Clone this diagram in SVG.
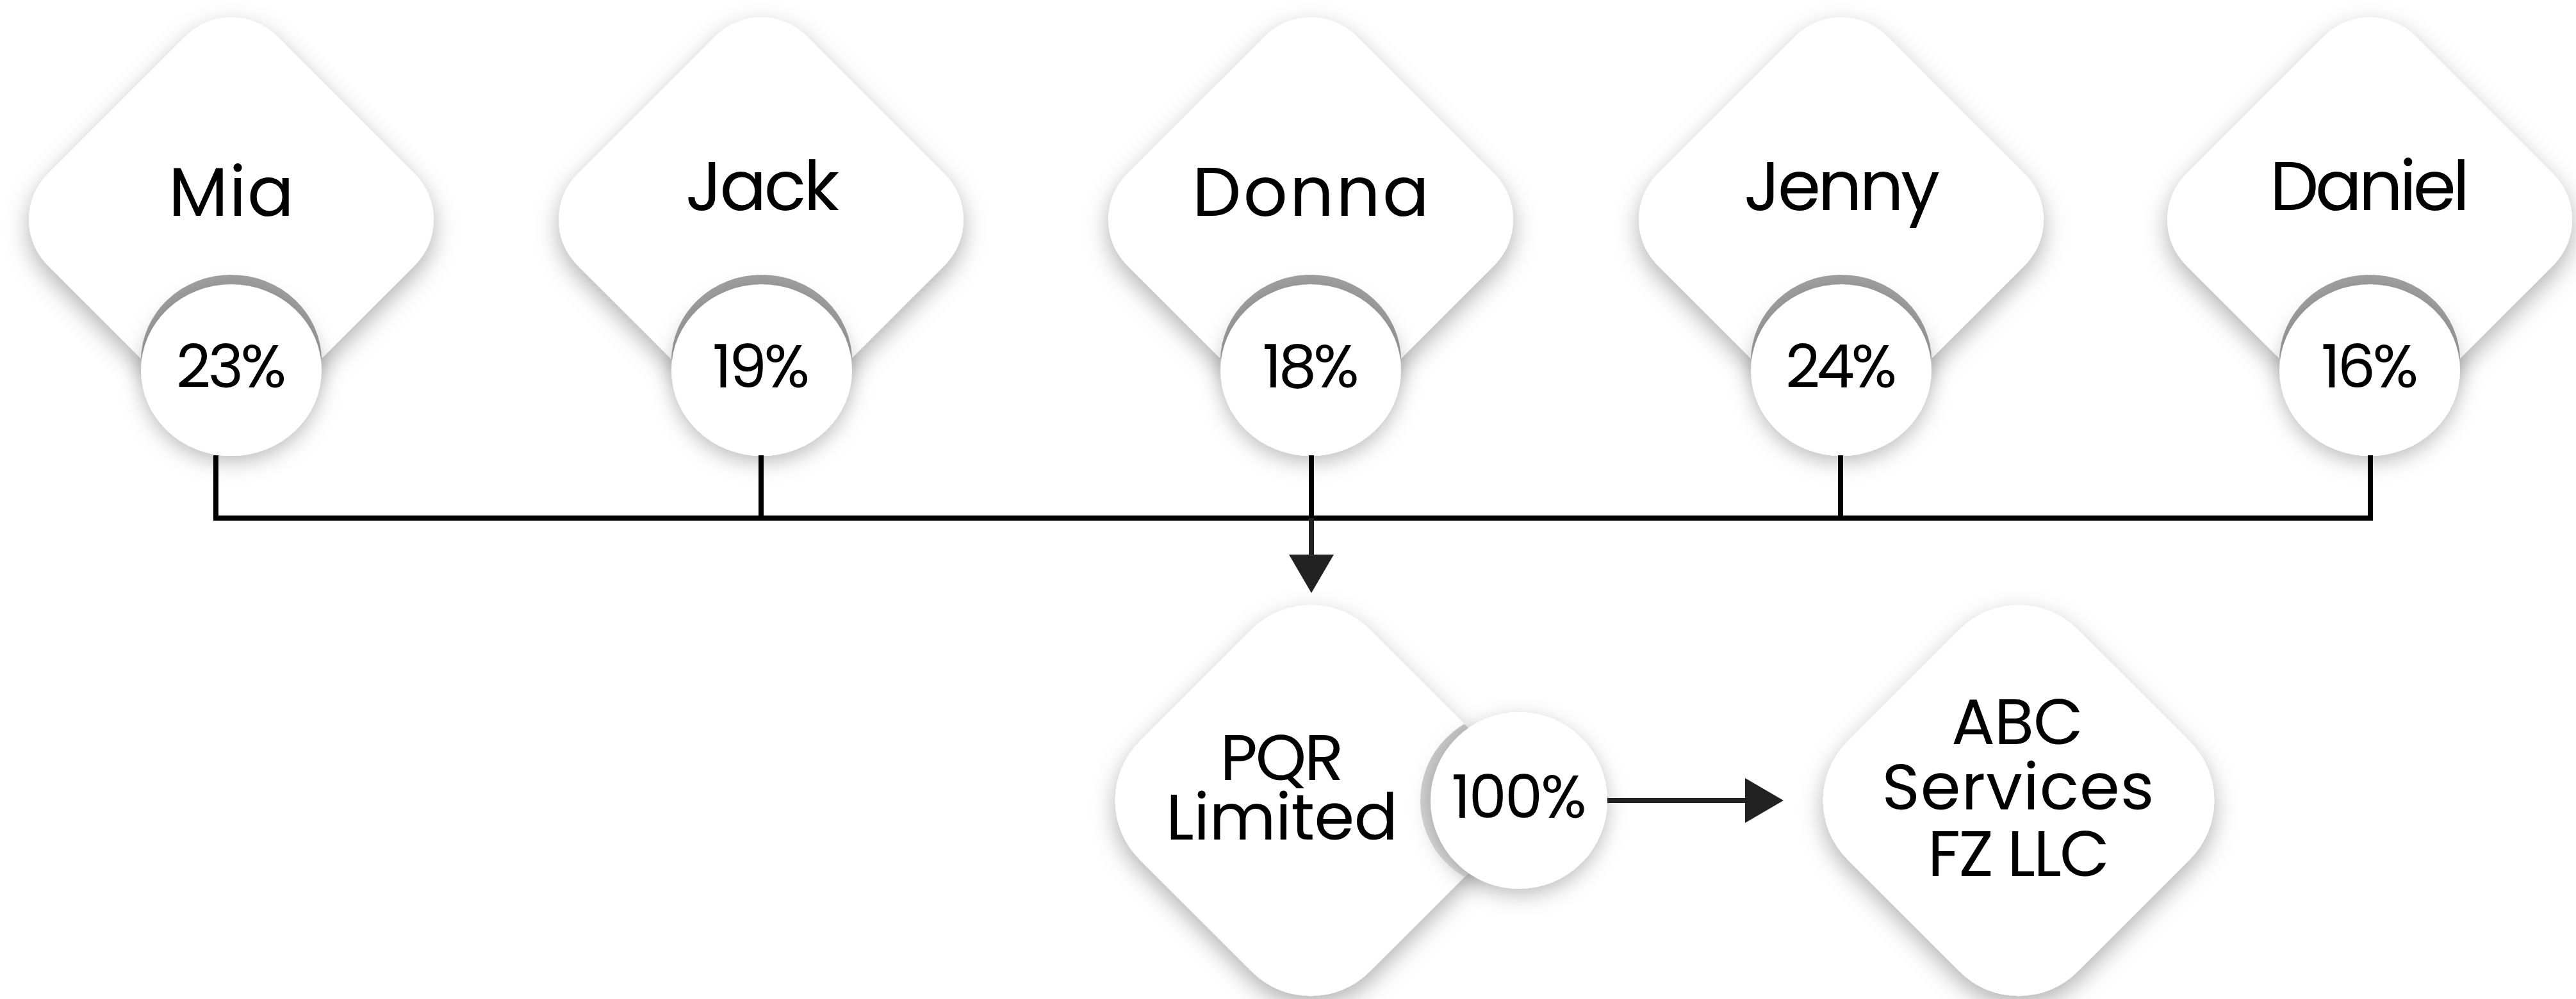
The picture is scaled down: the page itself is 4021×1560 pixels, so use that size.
<svg xmlns="http://www.w3.org/2000/svg" xmlns:xlink="http://www.w3.org/1999/xlink" width="4021" height="1560" viewBox="0 0 4021 1560">
  <style>
    .dia { fill: #ffffff; filter: url(#shadow); }
    .pct { fill: #ffffff; filter: url(#shadowC); }
    .cres { fill: #a0a0a0; }
    .name { font-family: "Poppins", "Liberation Sans", Arial, sans-serif; font-size: 108px; fill: #000; text-anchor: middle; }
    .ptxt { font-family: "Poppins", "Liberation Sans", Arial, sans-serif; font-size: 94px; fill: #000; text-anchor: middle; }
    .ctxt { font-family: "Poppins", "Liberation Sans", Arial, sans-serif; font-size: 101px; fill: #000; text-anchor: middle; }
    .link { fill: none; stroke: #000; stroke-width: 8; stroke-linejoin: miter; stroke-linecap: butt; }
    .arrow { fill: none; stroke: #222; stroke-width: 8; }
  </style>
  <defs>
    <filter id="shadow" x="-30%" y="-30%" width="160%" height="170%">
      <feDropShadow dx="0" dy="14" stdDeviation="18" flood-color="#000" flood-opacity="0.3"/>
    </filter>
    <filter id="shadowC" x="-40%" y="-40%" width="180%" height="190%">
      <feDropShadow dx="0" dy="10" stdDeviation="16" flood-color="#000" flood-opacity="0.26"/>
    </filter>
    <rect id="dTop" x="-253" y="-253" width="506" height="506" rx="101" transform="rotate(45)"/>
    <rect id="dBot" x="-254" y="-254" width="508" height="508" rx="130" transform="rotate(45)"/>
    <clipPath id="clipTop"><use xlink:href="#dTop"/></clipPath>
    <clipPath id="clipBot"><use xlink:href="#dBot"/></clipPath>
    <linearGradient id="cresGrad" x1="0" y1="0" x2="0" y2="1">
      <stop offset="0" stop-color="#c2c2c2"/>
      <stop offset="1" stop-color="#e4e4e4"/>
    </linearGradient>
    <marker id="head" markerUnits="userSpaceOnUse" markerWidth="60" markerHeight="70" viewBox="0 0 60 70" refX="2" refY="35" orient="auto">
      <path d="M0 0 L60 35 L0 70 Z" fill="#222"/>
    </marker>
  </defs>

  <rect width="4021" height="1560" fill="#ffffff"/>

  <g id="node-mia" transform="translate(361 343)">
    <use xlink:href="#dTop" class="dia"/>
    <ellipse class="cres" cx="0" cy="220" rx="141" ry="134" clip-path="url(#clipTop)"/>
    <ellipse class="pct" cx="0" cy="235" rx="141" ry="134"/>
    <text class="name" x="0" y="-6" font-size="112" textLength="196">Mia</text>
    <text class="ptxt" x="0" y="262" textLength="172">23%</text>
  </g>

  <g id="node-jack" transform="translate(1188 343)">
    <use xlink:href="#dTop" class="dia"/>
    <ellipse class="cres" cx="1" cy="220" rx="141" ry="134" clip-path="url(#clipTop)"/>
    <ellipse class="pct" cx="1" cy="235" rx="141" ry="134"/>
    <text class="name" x="2" y="-15" textLength="240">Jack</text>
    <text class="ptxt" x="0" y="262" textLength="152">19%</text>
  </g>

  <g id="node-donna" transform="translate(2046 343)">
    <use xlink:href="#dTop" class="dia"/>
    <ellipse class="cres" cx="0" cy="220" rx="141" ry="134" clip-path="url(#clipTop)"/>
    <ellipse class="pct" cx="0" cy="235" rx="141" ry="134"/>
    <text class="name" x="0" y="-6" font-size="115" textLength="370">Donna</text>
    <text class="ptxt" x="0" y="262" textLength="151">18%</text>
  </g>

  <g id="node-jenny" transform="translate(2874 343)">
    <use xlink:href="#dTop" class="dia"/>
    <ellipse class="cres" cx="0" cy="220" rx="141" ry="134" clip-path="url(#clipTop)"/>
    <ellipse class="pct" cx="0" cy="235" rx="141" ry="134"/>
    <text class="name" x="1" y="-15" font-size="105" textLength="306">Jenny</text>
    <text class="ptxt" x="0" y="262" textLength="174">24%</text>
  </g>

  <g id="node-daniel" transform="translate(3699 343)">
    <use xlink:href="#dTop" class="dia"/>
    <ellipse class="cres" cx="0" cy="220" rx="141" ry="134" clip-path="url(#clipTop)"/>
    <ellipse class="pct" cx="0" cy="235" rx="141" ry="134"/>
    <text class="name" x="0" y="-15" font-size="104" textLength="312">Daniel</text>
    <text class="ptxt" x="0" y="262" textLength="152">16%</text>
  </g>

  <g id="node-pqr" transform="translate(2046 1250)">
    <use xlink:href="#dBot" class="dia"/>
    <circle cx="309" cy="0" r="138" fill="url(#cresGrad)" clip-path="url(#clipBot)"/>
    <circle class="pct" cx="325" cy="0" r="138"/>
    <text class="ctxt" x="-45" y="-32" textLength="193">PQR</text>
    <text class="ctxt" x="-45" y="61" textLength="362">Limited</text>
    <text class="ptxt" x="325" y="27" textLength="211">100%</text>
  </g>

  <g id="node-abc" transform="translate(3151 1250)">
    <use xlink:href="#dBot" class="dia"/>
    <text class="ctxt" x="-2" y="-88" textLength="206">ABC</text>
    <text class="ctxt" x="-1" y="14" textLength="425">Services</text>
    <text class="ctxt" x="0" y="118" textLength="284">FZ LLC</text>
  </g>

  <g id="connectors">
    <path class="link" d="M337 711 V809 H3700 V711"/>
    <path class="link" d="M1188 711 V809"/>
    <path class="link" d="M2047 711 V809"/>
    <path class="link" d="M2873 711 V809"/>
    <path class="arrow" d="M2047 809 V868" marker-end="url(#head)"/>
    <path class="arrow" d="M2509 1250 H2726" marker-end="url(#head)"/>
  </g>
</svg>
